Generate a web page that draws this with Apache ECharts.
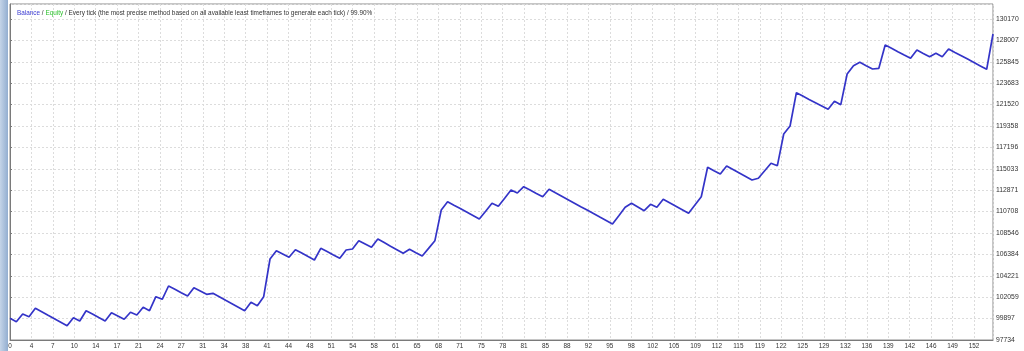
<!DOCTYPE html>
<html>
<head>
<meta charset="utf-8">
<script src="https://cdn.jsdelivr.net/npm/echarts@6/dist/echarts.min.js"></script>
<style>
html,body{margin:0;padding:0;background:#fff;}
#c{width:1024px;height:351px;}
</style>
</head>
<body>
<div id="c"></div>
<script>
// Balance per trade number (0..155)
const balance = [
  99927, 99583, 100361, 100088, 100937, 100584, 100230, 99886, 99533, 99179,
  99987, 99654, 100695, 100351, 99998, 99654, 100493, 100159, 99826, 100533,
  100260, 101038, 100695, 102109, 101847, 103191, 102857, 102514, 102180, 103019,
  102685, 102352, 102453, 102099, 101746, 101402, 101048, 100695, 101544, 101200,
  102109, 105919, 106758, 106424, 106091, 106859, 106515, 106162, 105818, 107000,
  106667, 106323, 105990, 106829, 106930, 107768, 107435, 107101, 107940, 107576,
  107212, 106859, 106495, 106899, 106556, 106222, 106990, 107768, 110871, 111709,
  111356, 111012, 110658, 110315, 109961, 110749, 111547, 111244, 112063, 112892,
  112588, 113225, 112892, 112548, 112214, 112962, 112609, 112265, 111911, 111558,
  111204, 110860, 110507, 110153, 109809, 109456, 110295, 111143, 111547, 111174,
  110800, 111446, 111143, 111952, 111598, 111244, 110891, 110537, 111376, 112214,
  115185, 114842, 114508, 115317, 114963, 114609, 114256, 113902, 114074, 114832,
  115590, 115347, 118550, 119359, 122724, 122390, 122047, 121713, 121380, 121046,
  121855, 121511, 124613, 125452, 125796, 125452, 125119, 125189, 127544, 127210,
  126867, 126533, 126200, 127039, 126695, 126362, 126705, 126362, 127140, 126796,
  126463, 126119, 125775, 125432, 125088, 128655
];
const xTickLabels = ['0','4','7','10','14','17','21','24','27','31','34','38','41','44','48','51','54','58','61','65','68','71','75','78','81','85','88','92','95','98','102','105','109','112','115','119','122','125','129','132','136','139','142','146','149','152'];
const yTickLabels = ['97734','99897','102059','104221','106384','108546','110708','112871','115033','117196','119358','121520','123683','125845','128007','130170'];
const titleParts = ['Balance', 'Equity', 'Every tick (the most precise method based on all available least timeframes to generate each tick)', '99.90%'];

const xMin = 0, xMax = balance.length - 1, xStep = 152 / 45;
const yMin = 97734, yStep = 2162.4, yMax = 131686;

const data = balance.map((v, i) => [i, v]);

function lookup(v, min, step, labels) {
  const k = Math.round((v - min) / step);
  if (k < 0 || k >= labels.length) return '';
  if (Math.abs(v - (min + k * step)) > step * 0.05) return '';
  return labels[k];
}

const chart = echarts.init(document.getElementById('c'), null, {renderer: 'canvas'});
const font = 'Liberation Sans, Arial, sans-serif';
chart.setOption({
  animation: false,
  backgroundColor: '#ffffff',
  title: {
    left: 12, top: 5,
    text: '{b|' + titleParts[0] + '}{s| / }{e|' + titleParts[1] + '}{s| / ' + titleParts[2] + ' / ' + titleParts[3] + '}',
    textStyle: {
      fontSize: 6.4, fontFamily: font, fontWeight: 'normal',
      rich: {
        b: {color: '#3c3cd2', fontSize: 6.4, fontFamily: font},
        e: {color: '#2fc22f', fontSize: 6.4, fontFamily: font},
        s: {color: '#333333', fontSize: 6.4, fontFamily: font}
      }
    }
  },
  graphic: [{
    type: 'rect', left: 0, top: 0, z: 10,
    shape: {x: 0, y: 0, width: 8, height: 351},
    style: {fill: new echarts.graphic.LinearGradient(0, 0, 1, 0, [
      {offset: 0, color: '#c4d4e8'}, {offset: 1, color: '#93aed0'}])}
  }],
  grid: {
    left: 10, top: 4, width: 983, height: 336,
    show: true, borderColor: '#8c8c8c', borderWidth: 1, backgroundColor: '#ffffff'
  },
  xAxis: {
    type: 'value', min: xMin, max: xMax, interval: xStep,
    axisLine: {show: true, lineStyle: {color: '#7a7a7a', width: 1}},
    axisTick: {show: false},
    axisLabel: {
      margin: 3, fontSize: 6.4, fontFamily: font, color: '#333333',
      showMaxLabel: false,
      formatter: v => lookup(v, xMin, xStep, xTickLabels)
    },
    splitLine: {show: true, lineStyle: {color: '#dcdcdc', type: [2, 2], width: 1}}
  },
  yAxis: {
    type: 'value', position: 'right', min: yMin, max: yMax, interval: yStep,
    axisLine: {show: true, lineStyle: {color: '#7a7a7a', width: 1}},
    axisTick: {show: true, length: 2, lineStyle: {color: '#7a7a7a'}},
    axisLabel: {
      margin: 3, fontSize: 6.8, fontFamily: font, color: '#333333',
      showMaxLabel: false,
      formatter: v => lookup(v, yMin, yStep, yTickLabels)
    },
    splitLine: {show: true, lineStyle: {color: '#dcdcdc', type: [2, 2], width: 1}}
  },
  series: [{
    name: 'Balance', type: 'line', data: data,
    symbol: 'none', smooth: false,
    lineStyle: {color: '#3434c8', width: 1.7},
    z: 5
  }]
});
</script>
</body>
</html>
